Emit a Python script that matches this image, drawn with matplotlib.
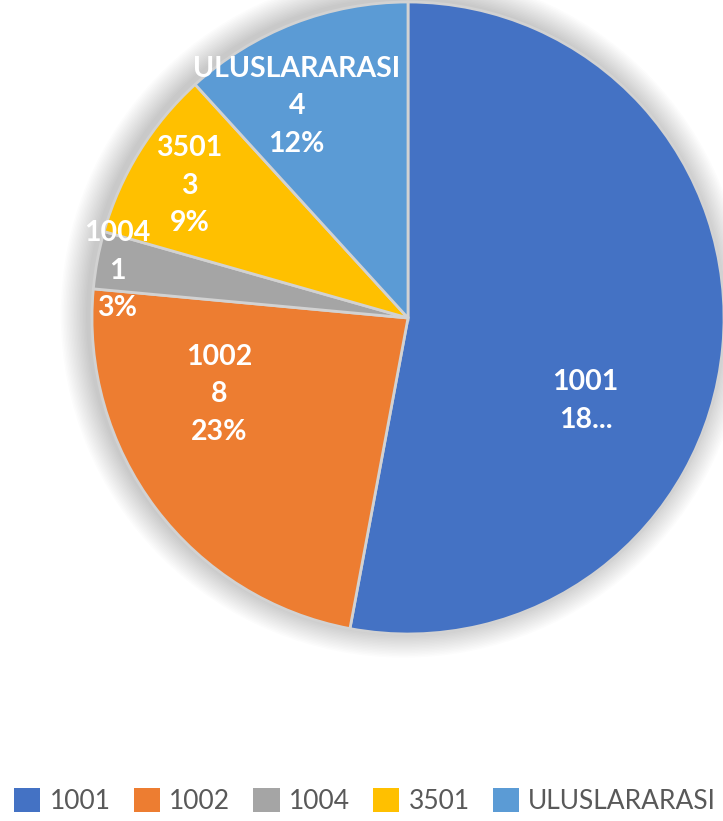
import matplotlib
matplotlib.use("Agg")
import matplotlib.pyplot as plt
from matplotlib.patches import Patch, Circle

categories = ["1001", "1002", "1004", "3501", "ULUSLARARASI"]
values = [18, 8, 1, 3, 4]
colors = ["#4472C4", "#ED7D31", "#A5A5A5", "#FFC000", "#5B9BD5"]
value_labels = ["18...", "8", "1", "3", "4"]
pct_labels = [None, "23%", "3%", "9%", "12%"]
# label centres in data coords (pie radius = 1)
label_pos = [(0.562, -0.263), (-0.597, -0.241), (-0.921, 0.149), (-0.692, 0.419), (-0.352, 0.670)]

W, H = 723, 821
fig = plt.figure(figsize=(W / 100, H / 100), dpi=100)
cx, cy, r = 408, 318, 316
ax = fig.add_axes([(cx - r) / W, (H - cy - r) / H, 2 * r / W, 2 * r / H])

# soft shadow/glow around the pie
n = 18
for k in range(n, 0, -1):
    rr = 1 + 0.085 * k / n
    ax.add_patch(Circle((-0.014, 0.01), rr, facecolor="black", edgecolor="none",
                        alpha=0.011, zorder=0, clip_on=False))

wedges, _ = ax.pie(values, colors=colors, startangle=90, counterclock=False, radius=1,
                   wedgeprops=dict(edgecolor="#d2d2d2", linewidth=2.0))
for w in wedges:
    w.set_zorder(2)
ax.set_xlim(-1.0, 1.0)
ax.set_ylim(-1.0, 1.0)
ax.set_aspect("equal")
ax.axis("off")

for cat, vl, pl, (x, y) in zip(categories, value_labels, pct_labels, label_pos):
    txt = f"{cat}\n{vl}"
    if pl:
        txt += f"\n{pl}"
    ax.text(x, y, txt, ha="center", va="center", color="white", fontsize=20.5,
            fontweight="bold", family=["Lato", "DejaVu Sans"], linespacing=1.55, zorder=5)

handles = [Patch(facecolor=c, edgecolor="none") for c in colors]
fig.legend(handles, categories, loc="center", bbox_to_anchor=(0.505, (H - 801) / H), ncol=5,
           frameon=False, prop=dict(family=["Lato", "DejaVu Sans"], size=19),
           labelcolor="#595959", handlelength=1.0, handleheight=1.0, handletextpad=0.35,
           columnspacing=0.87, borderaxespad=0)

fig.savefig("out.png", dpi=100)
